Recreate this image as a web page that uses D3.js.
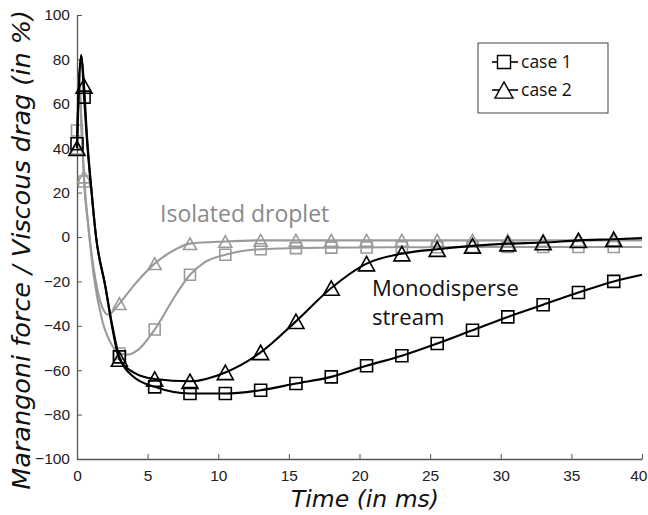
<!DOCTYPE html>
<html>
<head>
<meta charset="utf-8">
<script src="https://cdn.jsdelivr.net/npm/d3@7"></script>
<style>
  body { margin: 0; background: #fff; }
  svg { display: block; }
</style>
</head>
<body>
<svg width="648" height="515"></svg>
<script>
// values (time in ms, ratio in %)
const monoCase1T = [0, 0.1, 0.3, 0.5, 0.7, 1.0, 1.35, 2.0, 2.5, 3, 4, 5.5, 8, 10.5, 13, 15.5, 18, 20.5, 23, 25.5, 28, 30.5, 33, 35.5, 38, 40];
const monoCase1V = [42, 62, 82, 63, 44, 22, 0, -22, -40, -54, -63, -67.5, -70.5, -70.5, -69, -66, -63, -58, -53.5, -48, -42, -36, -30.5, -25, -20, -17];
const monoCase2T = [0, 0.1, 0.3, 0.5, 0.7, 1.0, 1.35, 2.0, 2.5, 3, 4, 5.5, 8, 10.5, 13, 15.5, 18, 20.5, 23, 25.5, 28, 30.5, 33, 35.5, 38, 40];
const monoCase2V = [40, 64, 82, 68, 46, 23, 0, -22, -41, -55, -61, -64, -65, -61, -52, -38, -23, -12, -7.5, -5.5, -4, -3, -2.5, -1.5, -1, -0.5];
const isoCase1T = [0, 0.15, 0.3, 0.5, 0.8, 1.2, 1.8, 2.5, 3, 3.6, 4.3, 5.5, 7, 8, 9, 10.5, 13, 15.5, 18, 20.5, 23, 25.5, 28, 30.5, 33, 35.5, 38, 40];
const isoCase1V = [48, 74, 55, 25, 5, -18, -38, -49, -52.5, -53, -51, -41.7, -26, -17, -11.5, -8, -5.5, -5, -4.8, -4.7, -4.6, -4.6, -4.5, -4.5, -4.5, -4.5, -4.5, -4.5];
const isoCase2T = [0, 0.15, 0.3, 0.5, 0.8, 1.2, 1.7, 2.2, 3, 4, 5.5, 7, 8, 10.5, 13, 15.5, 18, 20.5, 23, 25.5, 28, 30.5, 33, 35.5, 38, 40];
const isoCase2V = [40, 70, 50, 27, 5, -15, -30, -35, -30, -22, -12, -5.5, -3, -2, -1.5, -1.5, -1.5, -1.5, -1.5, -1.5, -1.5, -1.5, -1.5, -1.5, -1.5, -1.5];
const markerTimes = [0, 0.5, 3, 5.5, 8, 10.5, 13, 15.5, 18, 20.5, 23, 25.5, 28, 30.5, 33, 35.5, 38];
const xTicks = [0, 5, 10, 15, 20, 25, 30, 35, 40];
const yTicks = [-100, -80, -60, -40, -20, 0, 20, 40, 60, 80, 100];

const series = [
  {t: isoCase1T, v: isoCase1V, color: "#9a9a9a", marker: "square", size: 11},
  {t: isoCase2T, v: isoCase2V, color: "#9a9a9a", marker: "triangle", size: 13},
  {t: monoCase1T, v: monoCase1V, color: "#000", marker: "square", size: 12},
  {t: monoCase2T, v: monoCase2V, color: "#000", marker: "triangle", size: 16}
];

const svg = d3.select("svg");
const x = d3.scaleLinear().domain([0, 40]).range([77, 642]);
const y = d3.scaleLinear().domain([-100, 100]).range([459, 15]);

// axes (ticks pointing inward)
const axisColor = "#555";
const gx = svg.append("g").attr("transform", "translate(0," + y(-100) + ")")
  .call(d3.axisBottom(x).tickValues(xTicks).tickSizeInner(-5).tickSizeOuter(0).tickPadding(11));
const gy = svg.append("g").attr("transform", "translate(" + x(0) + ",0)")
  .call(d3.axisLeft(y).tickValues(yTicks).tickSizeInner(-5).tickSizeOuter(0).tickPadding(7));
[gx, gy].forEach(function (g) {
  g.select(".domain").attr("stroke", axisColor).attr("stroke-width", 1.3);
  g.selectAll(".tick line").attr("stroke", axisColor);
  g.selectAll(".tick text").attr("fill", "#222")
    .attr("font-family", "'Liberation Sans', Arial, sans-serif").attr("font-size", 15.5);
});
// last x label sits against the right edge
gx.selectAll(".tick text").filter(d => d === 40).attr("text-anchor", "end").attr("x", 5);

function symbolPath(kind, s) {
  if (kind === "square") {
    const h = s / 2;
    return "M" + (-h) + "," + (-h) + "H" + h + "V" + h + "H" + (-h) + "Z";
  }
  const w = s / 2, hh = s * 0.45;
  return "M0," + (-hh) + "L" + w + "," + hh + "L" + (-w) + "," + hh + "Z";
}

const line = d3.line().x(d => x(d[0])).y(d => y(d[1])).curve(d3.curveMonotoneX);

series.forEach(function (s) {
  const pts = s.t.map((t, i) => [t, s.v[i]]);
  svg.append("path").datum(pts)
    .attr("fill", "none").attr("stroke", s.color).attr("stroke-width", 2.1)
    .attr("d", line);
  const marks = pts.filter(p => markerTimes.indexOf(p[0]) >= 0);
  svg.append("g").selectAll("path").data(marks).enter().append("path")
    .attr("transform", d => "translate(" + x(d[0]) + "," + y(d[1]) + ")")
    .attr("d", symbolPath(s.marker, s.size))
    .attr("fill", "none").attr("stroke", s.color).attr("stroke-width", 1.6);
});

// annotations
const annoFont = "'Open Sans', sans-serif";
svg.append("text").attr("x", 160).attr("y", 222)
  .attr("font-family", annoFont).attr("font-size", 23).attr("fill", "#8a8a8a")
  .text("Isolated droplet");
svg.append("text").attr("x", 372).attr("y", 296)
  .attr("font-family", annoFont).attr("font-size", 22).attr("fill", "#111")
  .text("Monodisperse");
svg.append("text").attr("x", 372).attr("y", 325)
  .attr("font-family", annoFont).attr("font-size", 22).attr("fill", "#111")
  .text("stream");

// axis titles
svg.append("text").attr("x", 365).attr("y", 507).attr("text-anchor", "middle")
  .attr("font-family", "'DejaVu Sans', sans-serif").attr("font-style", "italic").attr("font-size", 23.5)
  .attr("fill", "#111").text("Time (in ms)");
svg.append("text").attr("transform", "translate(30,250) rotate(-90)").attr("text-anchor", "middle")
  .attr("font-family", "'DejaVu Sans', sans-serif").attr("font-style", "italic").attr("font-size", 25.5)
  .attr("fill", "#111").text("Marangoni force / Viscous drag (in %)");

// legend
const legend = svg.append("g");
legend.append("rect").attr("x", 478).attr("y", 43).attr("width", 130).attr("height", 70)
  .attr("fill", "#fff").attr("stroke", "#444").attr("stroke-width", 1);
[{label: "case 1", marker: "square", size: 13}, {label: "case 2", marker: "triangle", size: 18}]
  .forEach(function (d, i) {
    const ly = 62 + i * 28;
    legend.append("line").attr("x1", 492).attr("x2", 518).attr("y1", ly).attr("y2", ly)
      .attr("stroke", "#000").attr("stroke-width", 1.6);
    legend.append("path").attr("transform", "translate(504," + ly + ")")
      .attr("d", symbolPath(d.marker, d.size))
      .attr("fill", "#fff").attr("stroke", "#000").attr("stroke-width", 1.4);
    legend.append("text").attr("x", 521).attr("y", ly + 6)
      .attr("font-family", annoFont).attr("font-size", 17.5).attr("fill", "#111")
      .text(d.label);
  });
</script>
</body>
</html>
